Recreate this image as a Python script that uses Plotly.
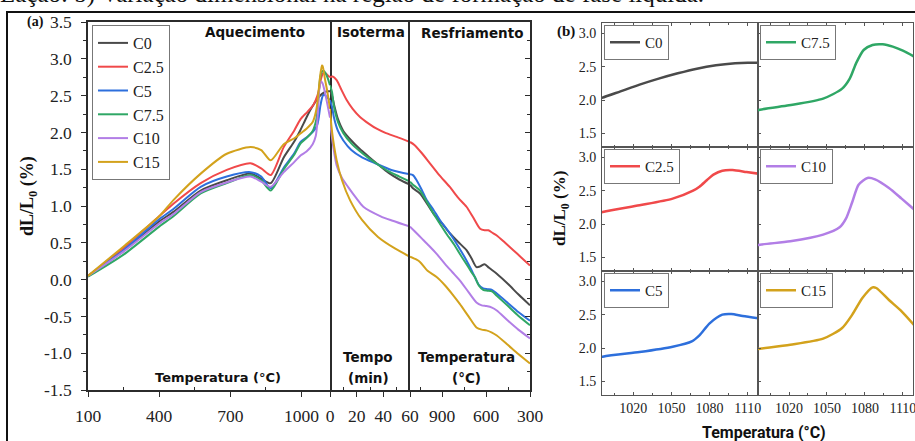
import plotly.graph_objects as go

W, H = 915, 441
def fx(px): return px / W
def fy(py): return 1 - py / H

names = ["C0", "C2.5", "C5", "C7.5", "C10", "C15"]
colors = ["#4a4a4a", "#f0494a", "#2d6fdc", "#2fa765", "#b27ee6", "#d3a21c"]

# ---------------- heating (T, °C) ----------------
heat_T_C0 = [100, 250, 400, 460, 575, 685, 785, 830, 870, 925, 970, 995, 1010, 1025, 1040, 1055, 1070, 1085, 1100, 1110, 1120]
heat_C0 = [0.05, 0.39, 0.79, 0.92, 1.21, 1.35, 1.44, 1.37, 1.31, 1.66, 1.88, 2.03, 2.13, 2.23, 2.32, 2.40, 2.47, 2.52, 2.55, 2.56, 2.56]
heat_T_C25 = [100, 250, 400, 460, 575, 685, 785, 830, 870, 925, 970, 996, 1025, 1051, 1067, 1072, 1078, 1083, 1090, 1098, 1109, 1120]
heat_C25 = [0.05, 0.43, 0.86, 1.03, 1.31, 1.49, 1.58, 1.51, 1.42, 1.80, 2.03, 2.18, 2.28, 2.38, 2.50, 2.56, 2.66, 2.74, 2.80, 2.81, 2.78, 2.75]
heat_T_C5 = [100, 250, 400, 460, 575, 685, 785, 830, 870, 925, 970, 996, 1025, 1051, 1066, 1072, 1080, 1090, 1097, 1106, 1120]
heat_C5 = [0.05, 0.40, 0.82, 0.96, 1.26, 1.40, 1.46, 1.40, 1.24, 1.52, 1.72, 1.87, 1.94, 2.02, 2.10, 2.19, 2.37, 2.50, 2.51, 2.48, 2.44]
heat_T_C75 = [100, 250, 400, 460, 575, 685, 785, 830, 870, 925, 970, 997, 1020, 1047, 1062, 1068, 1073, 1079, 1086, 1094, 1102, 1110, 1120]
heat_C75 = [0.04, 0.34, 0.72, 0.86, 1.17, 1.31, 1.42, 1.35, 1.21, 1.50, 1.70, 1.855, 1.92, 2.02, 2.17, 2.32, 2.55, 2.75, 2.825, 2.835, 2.80, 2.74, 2.64]
heat_T_C10 = [100, 250, 400, 460, 575, 685, 785, 830, 870, 925, 970, 997, 1021, 1047, 1060, 1065, 1070, 1075, 1082, 1088, 1099, 1109, 1120]
heat_C10 = [0.05, 0.38, 0.76, 0.89, 1.19, 1.32, 1.40, 1.33, 1.26, 1.46, 1.60, 1.69, 1.74, 1.84, 1.95, 2.08, 2.33, 2.59, 2.69, 2.67, 2.54, 2.38, 2.20]
heat_T_C15 = [100, 250, 400, 460, 575, 685, 785, 830, 870, 925, 970, 997, 1021, 1047, 1062, 1070, 1078, 1086, 1089, 1099, 1109, 1120]
heat_C15 = [0.05, 0.45, 0.86, 1.08, 1.44, 1.71, 1.80, 1.76, 1.62, 1.84, 1.92, 1.99, 2.05, 2.14, 2.30, 2.50, 2.75, 2.91, 2.90, 2.72, 2.55, 2.32]

# ---------------- isotherm (time, min) ----------------
iso_t_C0 = [0, 1.5, 3, 6, 10, 16, 22, 29, 37, 44, 52, 60]
iso_C0 = [2.56, 2.50, 2.38, 2.18, 2.02, 1.89, 1.78, 1.67, 1.55, 1.45, 1.36, 1.29]
iso_t_C25 = [0, 2, 5, 8, 12.5, 17, 22.5, 29, 35, 42, 50, 60]
iso_C25 = [2.75, 2.76, 2.71, 2.60, 2.44, 2.32, 2.21, 2.12, 2.05, 1.99, 1.94, 1.87]
iso_t_C5 = [0, 1.5, 3, 6, 10, 16, 24, 34, 46, 60]
iso_C5 = [2.44, 2.35, 2.20, 2.02, 1.89, 1.76, 1.66, 1.58, 1.49, 1.43]
iso_t_C75 = [0, 1.5, 3, 6, 10, 16, 22, 29, 37, 44, 52, 60]
iso_C75 = [2.64, 2.55, 2.35, 2.14, 1.99, 1.85, 1.75, 1.65, 1.55, 1.47, 1.40, 1.33]
iso_t_C10 = [0, 1, 2.5, 5, 9, 13.5, 20, 25, 38, 47, 60]
iso_C10 = [2.20, 2.00, 1.80, 1.55, 1.38, 1.26, 1.10, 0.99, 0.86, 0.80, 0.72]
iso_t_C15 = [0, 1, 2.5, 5, 9, 15, 24, 36, 49, 60]
iso_C15 = [2.32, 2.10, 1.88, 1.62, 1.35, 1.08, 0.81, 0.58, 0.42, 0.31]

# ---------------- cooling (T, °C) ----------------
cool_T_C0 = [1120, 1100, 1052, 1000, 961, 900, 848, 790, 734, 700, 666, 640, 610, 580, 527, 450, 380, 300]
cool_C0 = [1.29, 1.24, 1.17, 1.02, 0.90, 0.76, 0.63, 0.51, 0.40, 0.29, 0.17, 0.18, 0.21, 0.16, 0.08, -0.06, -0.20, -0.35]
cool_T_C25 = [1120, 1090, 1040, 984, 920, 848, 790, 734, 690, 641, 610, 584, 560, 527, 470, 414, 360, 300]
cool_C25 = [1.87, 1.83, 1.72, 1.58, 1.42, 1.26, 1.11, 0.99, 0.85, 0.69, 0.67, 0.67, 0.64, 0.60, 0.50, 0.40, 0.30, 0.19]
cool_T_C5 = [1120, 1100, 1075, 1040, 1006, 960, 916, 848, 790, 734, 700, 677, 650, 620, 590, 560, 527, 450, 380, 300]
cool_C5 = [1.43, 1.42, 1.35, 1.22, 1.08, 0.95, 0.81, 0.63, 0.45, 0.26, 0.13, 0.035, -0.07, -0.12, -0.13, -0.14, -0.19, -0.32, -0.44, -0.56]
cool_T_C75 = [1120, 1100, 1052, 1000, 961, 916, 870, 820, 780, 734, 700, 677, 650, 620, 590, 560, 527, 450, 380, 300]
cool_C75 = [1.33, 1.29, 1.21, 1.04, 0.90, 0.76, 0.62, 0.48, 0.35, 0.21, 0.10, 0.035, -0.08, -0.14, -0.15, -0.16, -0.22, -0.36, -0.49, -0.62]
cool_T_C10 = [1120, 1090, 1040, 990, 938, 880, 830, 780, 720, 666, 630, 598, 560, 527, 450, 380, 300]
cool_C10 = [0.72, 0.66, 0.56, 0.46, 0.35, 0.21, 0.10, -0.01, -0.17, -0.31, -0.35, -0.36, -0.38, -0.42, -0.56, -0.68, -0.80]
cool_T_C15 = [1120, 1075, 1052, 1000, 938, 880, 830, 780, 720, 666, 630, 598, 560, 527, 450, 380, 300]
cool_C15 = [0.31, 0.27, 0.24, 0.12, 0.035, -0.08, -0.20, -0.33, -0.50, -0.65, -0.68, -0.69, -0.72, -0.76, -0.89, -1.01, -1.14]

# tick labels (hyphen minus as in the reference)
ya_tickvals = [-1.5, -1.0, -0.5, 0.0, 0.5, 1.0, 1.5, 2.0, 2.5, 3.0, 3.5]
ya_ticktext = ["-1.5", "-1.0", "-0.5", "0.0", "0.5", "1.0", "1.5", "2.0", "2.5", "3.0", "3.5"]
heat_ticks = [100, 400, 700, 1000]
iso_ticks = [0, 20, 40, 60]
cool_ticks = [900, 600, 300]
yb_tickvals = [1.5, 2.0, 2.5, 3.0]
xb_tickvals = [1020, 1050, 1080, 1110]

heat_T = [heat_T_C0, heat_T_C25, heat_T_C5, heat_T_C75, heat_T_C10, heat_T_C15]
heat_V = [heat_C0, heat_C25, heat_C5, heat_C75, heat_C10, heat_C15]
iso_t = [iso_t_C0, iso_t_C25, iso_t_C5, iso_t_C75, iso_t_C10, iso_t_C15]
iso_V = [iso_C0, iso_C25, iso_C5, iso_C75, iso_C10, iso_C15]
cool_T = [cool_T_C0, cool_T_C25, cool_T_C5, cool_T_C75, cool_T_C10, cool_T_C15]
cool_V = [cool_C0, cool_C25, cool_C5, cool_C75, cool_C10, cool_C15]

# panel (b) arrangement: (series index, column, row)
b_layout = [(0, 0, 0), (3, 1, 0), (1, 0, 1), (4, 1, 1), (2, 0, 2), (5, 1, 2)]

SERIF = "Liberation Serif"
SANS = "DejaVu Sans"
AX = "#2b2b2b"

fig = go.Figure()

for i, nm in enumerate(names):
    ln = dict(color=colors[i], width=2, shape="spline", smoothing=0.7)
    fig.add_trace(go.Scatter(x=heat_T[i], y=heat_V[i], mode="lines", name=nm, line=ln,
                             xaxis="x", yaxis="y", legend="legend", legendgroup=nm))
    fig.add_trace(go.Scatter(x=iso_t[i], y=iso_V[i], mode="lines", name=nm, line=ln,
                             xaxis="x2", yaxis="y2", showlegend=False, legendgroup=nm))
    fig.add_trace(go.Scatter(x=cool_T[i], y=cool_V[i], mode="lines", name=nm, line=ln,
                             xaxis="x3", yaxis="y3", showlegend=False, legendgroup=nm))

# panel a axes
yr = [-1.5, 3.5]
ya_dom = [fy(390), fy(22)]
tf_a = dict(family=SERIF, size=17.5, color="#222")
common = dict(showgrid=False, zeroline=False, automargin=False, ticklabeloverflow="allow")
lay = {}
lay["xaxis"] = dict(domain=[fx(88), fx(330)], range=[100, 1120], anchor="y",
                    tickvals=heat_ticks, ticktext=[str(v) for v in heat_ticks],
                    ticks="outside", ticklen=5, tickcolor=AX,
                    minor=dict(tickvals=[250, 550, 850], ticks="inside", ticklen=3, tickcolor=AX),
                    showline=True, linecolor=AX, linewidth=1.5, mirror=True,
                    tickfont=tf_a, ticklabelstandoff=4, **common)
lay["xaxis2"] = dict(domain=[fx(330), fx(410)], range=[0, 60], anchor="y2",
                     tickvals=iso_ticks, ticks="outside", ticklen=5, tickcolor=AX,
                     minor=dict(tickvals=[10, 30, 50], ticks="inside", ticklen=3, tickcolor=AX),
                     showline=True, linecolor=AX, linewidth=1.5, mirror=True,
                     tickfont=tf_a, ticklabelstandoff=4, **common)
lay["xaxis3"] = dict(domain=[fx(410), fx(530)], range=[1120, 300], anchor="y3",
                     tickvals=cool_ticks, ticks="outside", ticklen=5, tickcolor=AX,
                     minor=dict(tickvals=[1050, 750, 450], ticks="inside", ticklen=3, tickcolor=AX),
                     showline=True, linecolor=AX, linewidth=1.5, mirror=True,
                     tickfont=tf_a, ticklabelstandoff=4, **common)
lay["yaxis"] = dict(domain=ya_dom, range=yr, anchor="x", tickvals=ya_tickvals, ticktext=ya_ticktext,
                    ticks="outside", ticklen=5, tickcolor=AX,
                    minor=dict(dtick=0.25, tick0=-1.5, ticks="outside", ticklen=3, tickcolor=AX),
                    showline=True, linecolor=AX, linewidth=1.5, mirror=True,
                    tickfont=tf_a, ticklabelstandoff=6, **common)
lay["yaxis2"] = dict(domain=ya_dom, range=yr, anchor="x2", ticks="", showticklabels=False,
                     showline=False, **common)
lay["yaxis3"] = dict(domain=ya_dom, range=yr, anchor="x3", side="right", tickvals=ya_tickvals,
                     ticks="inside", ticklen=5, tickcolor=AX, showticklabels=False,
                     minor=dict(dtick=0.25, tick0=-1.5, ticks="inside", ticklen=3, tickcolor=AX),
                     showline=True, linecolor=AX, linewidth=1.5, mirror=True, **common)

lay["legend"] = dict(x=fx(92), y=fy(25), xanchor="left", yanchor="top", bgcolor="white",
                     bordercolor="#777", borderwidth=1, font=dict(family=SERIF, size=16, color="#222"),
                     tracegroupgap=0, itemwidth=30)

# panel b axes
col_x = [(602, 758), (758, 913)]
row_y = [(23, 147), (147, 271), (271, 395)]
for k, (si, c, r) in enumerate(b_layout):
    n = 4 + k
    xa, ya = f"xaxis{n}", f"yaxis{n}"
    lay[xa] = dict(domain=[fx(col_x[c][0]), fx(col_x[c][1])], range=[995.5, 1118], anchor=f"y{n}",
                   tickvals=xb_tickvals, ticks="inside", ticklen=3, tickcolor="#555",
                   minor=dict(tick0=1005, dtick=15, ticks="inside", ticklen=2, tickcolor="#555"),
                   showticklabels=(r == 2), showline=True, linecolor="#555", linewidth=1, mirror="allticks",
                   tickfont=dict(family=SERIF, size=14, color="#222"), **common)
    lay[ya] = dict(domain=[fy(row_y[r][1]), fy(row_y[r][0])], range=[1.295, 3.155], anchor=f"x{n}",
                   tickvals=yb_tickvals, tickformat=".1f", ticks="inside", ticklen=3, tickcolor="#555",
                   showticklabels=(c == 0), showline=True, linecolor="#555", linewidth=1, mirror=True,
                   tickfont=dict(family=SERIF, size=14, color="#222"), ticklabelstandoff=2, **common)
    lg = f"legend{k + 2}"
    lay[lg] = dict(x=fx(col_x[c][0] + 2), y=fy(row_y[r][0] + 2), xanchor="left", yanchor="top",
                   bgcolor="white", bordercolor="#777", borderwidth=1,
                   font=dict(family=SERIF, size=15, color="#222"), itemwidth=30)
    fig.add_trace(go.Scatter(x=heat_T[si], y=heat_V[si], mode="lines", name=names[si],
                             line=dict(color=colors[si], width=2.5, shape="spline", smoothing=0.7),
                             xaxis=f"x{n}", yaxis=f"y{n}", legend=lg, showlegend=True))

annos = []
def txt(s, x, y, size, family, bold=False, angle=0, color="#111", xanchor="center", yanchor="middle"):
    annos.append(dict(text=(f"<b>{s}</b>" if bold else s), x=fx(x), y=fy(y), xref="paper", yref="paper",
                      showarrow=False, textangle=angle, xanchor=xanchor, yanchor=yanchor,
                      font=dict(family=family, size=size, color=color)))

txt("Aquecimento", 255, 32, 13.5, SANS, True)
txt("Isoterma", 371, 32, 13.5, SANS, True)
txt("Resfriamento", 472, 33, 13.5, SANS, True)
txt("Temperatura (°C)", 218, 377, 13, SANS, True)
txt("Tempo", 368, 357, 13.5, SANS, True)
txt("(min)", 368, 378, 13.5, SANS, True)
txt("Temperatura", 467, 357, 13.5, SANS, True)
txt("(°C)", 467, 378, 13.5, SANS, True)
txt("(a)", 35, 22, 14, SERIF, True)
txt("(b)", 566, 31, 15, SERIF, True)
txt("dL/L<sub>0</sub> (%)", 28, 196, 18, SERIF, True, angle=-90)
txt("dL/L<sub>0</sub> (%)", 561, 209, 17, SERIF, True, angle=-90)
txt("Temperatura (°C)", 764, 432, 16, "Roboto", True)
txt("Lação: b) Variação dimensional na região de formação de fase líquida.", -2, 10, 25, SERIF,
    xanchor="left", yanchor="bottom")

shapes = [dict(type="rect", xref="paper", yref="paper", x0=fx(7), x1=1.05, y0=-0.05, y1=fy(12),
               line=dict(color="#111", width=2), layer="below")]

fig.update_layout(**lay)
fig.update_layout(width=W, height=H, autosize=False,
                  margin=dict(l=0, r=0, t=0, b=0, pad=0, autoexpand=False),
                  paper_bgcolor="white", plot_bgcolor="white", annotations=annos, shapes=shapes)

fig.write_html("out.html")
